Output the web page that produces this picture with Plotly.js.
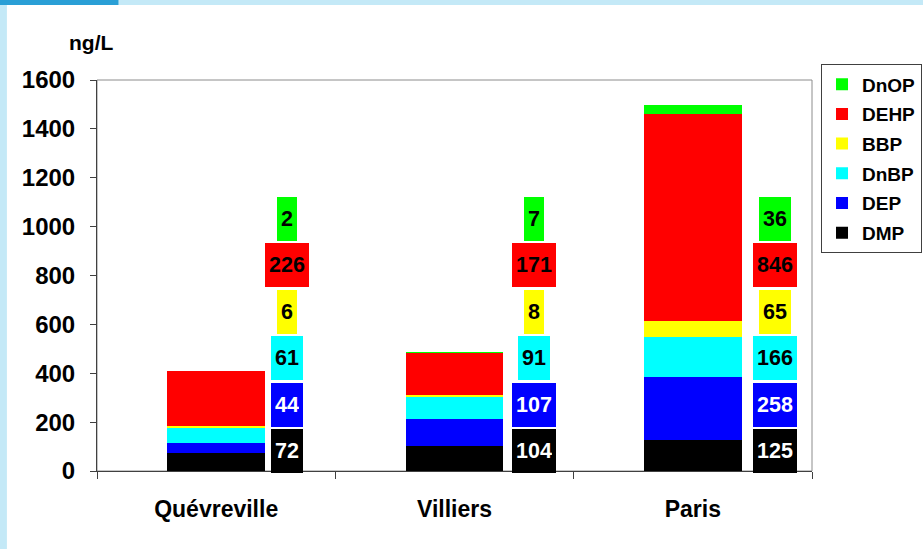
<!DOCTYPE html>
<html>
<head>
<meta charset="utf-8">
<script src="https://cdn.plot.ly/plotly-3.0.1.min.js"></script>
<style>
  body { margin: 0; padding: 0; background: #ffffff; }
  #plotArea { width: 923px; height: 549px; }
</style>
</head>
<body>
<div id="plotArea"></div>
<script>
// sites and phthalate concentrations (ng/L)
var sites = ["Quévreville", "Villiers", "Paris"];
var compounds = ["DMP", "DEP", "DnBP", "BBP", "DEHP", "DnOP"];
var dmp  = [72, 104, 125];
var dep  = [44, 107, 258];
var dnbp = [61, 91, 166];
var bbp  = [6, 8, 65];
var dehp = [226, 171, 846];
var dnop = [2, 7, 36];

var seriesValues = [dmp, dep, dnbp, bbp, dehp, dnop];
var colors = ["#000000", "#0000ff", "#00ffff", "#ffff00", "#ff0000", "#00ff00"];
var labelTextColors = ["#ffffff", "#ffffff", "#000000", "#000000", "#000000", "#000000"];

// where the value boxes sit, right of each bar (px)
var labelShift = [71, 79, 82];
var boxStep = 46.5;

var fontFam = "Liberation Sans, Arial, sans-serif";

var data = compounds.map(function(name, i) {
    return {
        x: sites,
        y: seriesValues[i],
        name: name,
        type: "bar",
        width: 0.41,
        legendgroup: name,
        legendrank: 100 - i,   // DnOP on top of the legend
        marker: { color: colors[i], line: { width: 0 } },
        hoverinfo: "skip"
    };
});

// value boxes
var annotations = [];
sites.forEach(function(site, s) {
    compounds.forEach(function(name, i) {
        annotations.push({
            x: site, xref: "x",
            y: 0, yref: "y",
            xanchor: "center", yanchor: "bottom",
            xshift: labelShift[s],
            yshift: boxStep * i - 2,
            text: String(seriesValues[i][s]),
            showarrow: false,
            bgcolor: colors[i],
            borderwidth: 0,
            borderpad: 4,
            height: 36,
            font: { family: fontFam, size: 21.5, weight: "bold", color: labelTextColors[i] }
        });
    });
});

annotations.push({
    xref: "paper", yref: "paper",
    x: -0.042, y: 1.095,
    xanchor: "left", yanchor: "middle",
    text: "ng/L",
    showarrow: false,
    font: { family: fontFam, size: 21, weight: "bold", color: "#000000" }
});

var layout = {
    width: 923,
    height: 549,
    margin: { l: 97, r: 111, t: 80, b: 78, autoexpand: false },
    paper_bgcolor: "#c4e9f7",
    plot_bgcolor: "#ffffff",
    barmode: "stack",
    showlegend: true,
    font: { family: fontFam, color: "#000000" },
    xaxis: {
        type: "category",
        showline: true,
        linecolor: "#404040",
        linewidth: 1,
        ticks: "outside",
        tickson: "boundaries",
        ticklen: 7,
        tickcolor: "#404040",
        ticklabelstandoff: 17,
        tickfont: { family: fontFam, size: 23, weight: "bold", color: "#000000" },
        showgrid: false,
        fixedrange: true
    },
    yaxis: {
        range: [0, 1600],
        dtick: 200,
        showline: true,
        linecolor: "#404040",
        linewidth: 1,
        ticks: "outside",
        ticklen: 6,
        tickcolor: "#404040",
        ticklabelstandoff: 10,
        tickfont: { family: fontFam, size: 24, weight: "bold", color: "#000000" },
        showgrid: false,
        zeroline: false,
        fixedrange: true
    },
    legend: {
        x: 1.0126, y: 1.04,
        xanchor: "left", yanchor: "top",
        traceorder: "grouped",
        tracegroupgap: 2,
        bgcolor: "#ffffff",
        bordercolor: "#404040",
        borderwidth: 1,
        font: { family: fontFam, size: 19, weight: "bold", color: "#000000" }
    },
    shapes: [
        // white slide area
        { type: "rect", xref: "paper", yref: "paper", x0: -0.126, x1: 1.16, y0: -0.21, y1: 1.192,
          fillcolor: "#ffffff", line: { width: 0 }, layer: "below" },
        // darker patch top-left
        { type: "rect", xref: "paper", yref: "paper", x0: -0.136, x1: 0.03, y0: 1.192, y1: 1.21,
          fillcolor: "#2a9fd6", line: { width: 0 }, layer: "below" },
        // plot frame
        { type: "rect", xref: "paper", yref: "paper", x0: 0, x1: 1, y0: 0, y1: 1,
          line: { color: "#8c8c8c", width: 1 }, fillcolor: "rgba(0,0,0,0)", layer: "below" }
    ],
    annotations: annotations
};

Plotly.newPlot("plotArea", data, layout, { displayModeBar: false, staticPlot: true });
</script>
</body>
</html>
